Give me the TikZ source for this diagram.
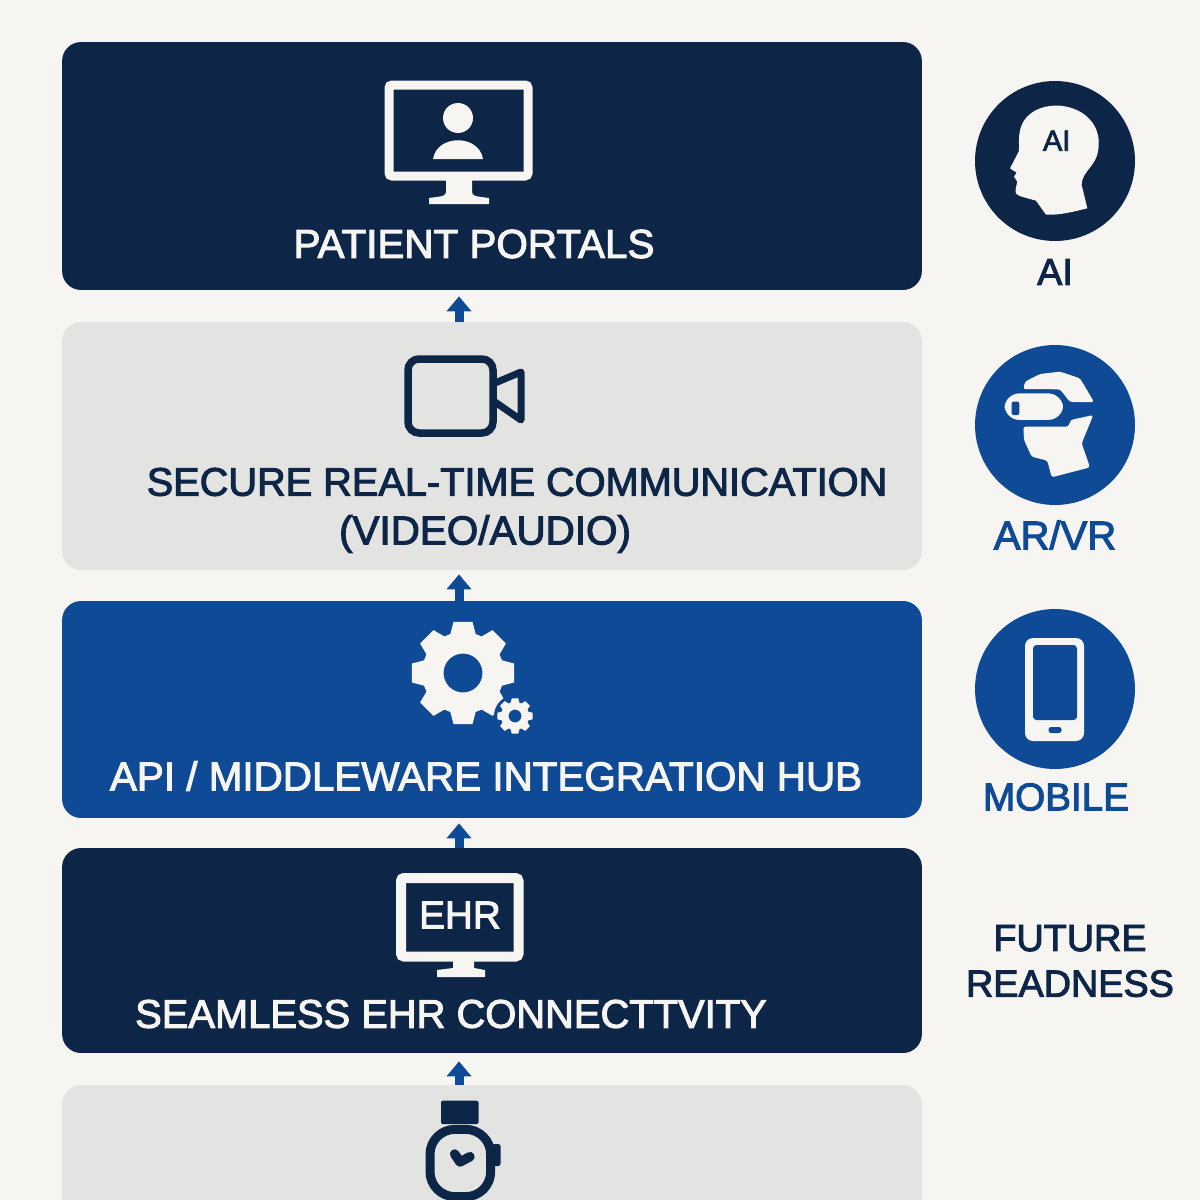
\documentclass[tikz,border=0pt]{standalone}
\usepackage{fontspec}
\setmainfont{Liberation Sans}[FakeBold=2.6]
\usetikzlibrary{arrows.meta}
\usetikzlibrary{calc}
\definecolor{navy}{HTML}{0D2547}
\definecolor{royal}{HTML}{0F4A97}
\definecolor{pale}{HTML}{E3E3E2}
\definecolor{paper}{HTML}{F6F5F2}
\tikzstyle{block} = [rectangle, rounded corners=0.38cm, inner sep=0pt,
                     minimum width=17.2cm]
\tikzstyle{darkblock}=[block, fill=navy]
\tikzstyle{greyblock}=[block, fill=pale]
\tikzstyle{blueblock}=[block, fill=royal]
\tikzstyle{flow}=[royal, line width=0.18cm, -{Triangle[width=0.48cm,length=0.3cm]}]
\tikzstyle{caption}=[inner sep=0pt, font=\fontsize{23}{28}\selectfont]
\tikzstyle{sidecaption}=[caption, align=center, font=\fontsize{21.5}{26}\selectfont]
\tikzstyle{badge}=[circle, inner sep=0pt, minimum size=3.2cm]
\newcommand{\gearicon}[5]{% center, outer, root, hole, colour
  \fill[#5, even odd rule]
    \foreach \a [count=\i from 0] in {0,45,...,315} {
      \ifnum\i=0 ($(#1)+(\a-10.5:#2)$) \else -- ($(#1)+(\a-10.5:#2)$) \fi
      -- ($(#1)+(\a+10.5:#2)$) -- ($(#1)+(\a+18:#3)$) -- ($(#1)+(\a+27:#3)$)
    } -- cycle (#1) circle (#4);}
\begin{document}
\begin{tikzpicture}[x=0.02cm, y=-0.02cm]
  \useasboundingbox (0,0) rectangle (1200,1200);
  \clip (0,0) rectangle (1200,1200);
  \fill[paper] (0,0) rectangle (1200,1200);
  % layers
  \node [darkblock, minimum height=4.96cm] (portals) at (492,166) {};
  \node [greyblock, minimum height=4.96cm] (secure) at (492,446) {};
  \node [blueblock, minimum height=4.34cm] (hub) at (492,709.5) {};
  \node [darkblock, minimum height=4.1cm] (ehr) at (492,950.5) {};
  \node [greyblock, minimum height=4.96cm] (wearable) at (492,1209) {};
  \coordinate (axis) at (459,0);
  \draw[flow] (secure.north -| axis) -- ([yshift=-0.12cm]portals.south -| axis);
  \draw[flow] (hub.north -| axis) -- ([yshift=-0.08cm]secure.south -| axis);
  \draw[flow] (ehr.north -| axis) -- ([yshift=-0.1cm]hub.south -| axis);
  \draw[flow] (wearable.north -| axis) -- ([yshift=-0.16cm]ehr.south -| axis);
  % captions
  \node [caption, text=paper] (portalstext) at (474,244) {PATIENT PORTALS};
  \node [caption, text=navy, font=\fontsize{22.6}{28}\selectfont] (securetext) at (517,482) {SECURE REAL-TIME COMMUNICATION};
  \node [caption, text=navy] (videotext) at (485,534) {(VIDEO/AUDIO)};
  \node [caption, text=paper] (hubtext) at (486,776) {API / MIDDLEWARE INTEGRATION HUB};
  \node [caption, text=paper, font=\fontsize{22.7}{28}\selectfont] (ehrtext) at (451,1014) {SEAMLESS EHR CONNECTTVITY};
  % side column
  \node [badge, fill=navy] (aibadge) at (1055,161) {};
  \node [badge, fill=royal] (vrbadge) at (1055,425) {};
  \node [badge, fill=royal] (mobilebadge) at (1055,689) {};
  \node [sidecaption, text=navy] (aitext) at (1055,272) {AI};
  \node [sidecaption, text=royal, font=\fontsize{22.8}{26}\selectfont] (vrtext) at (1055,535) {AR/VR};
  \node [sidecaption, text=royal, font=\fontsize{22}{26}\selectfont] (mobiletext) at (1056,797) {MOBILE};
  \node [sidecaption, text=navy] (futuretext) at (1070,961) {FUTURE\\READNESS};
  % portal monitor
  \draw[paper, line width=0.18cm, rounded corners=0.06cm] (389,85) rectangle (528,176);
  \fill[paper] (446,176) -- (472,176) -- (472,192) .. controls (473,196) .. (489,198) -- (489,204)
    -- (429,204) -- (429,198) .. controls (445,196) .. (446,192) -- cycle;
  \fill[paper] (458,118) circle (15);
  \fill[paper] (433,159) .. controls (437,134) and (479,134) .. (483,159) -- cycle;
  % camera
  \draw[navy, line width=0.15cm, rounded corners=0.22cm] (408,359) rectangle (493,433);
  \draw[navy, line width=0.14cm, line join=round] (495,383) -- (521,372) -- (521,420) -- (495,402);
  % gears
  \gearicon{463,673}{52}{41}{19.5}{paper}
  \fill[royal] (515,716) circle (21);
  \gearicon{515,716}{18}{14}{6.5}{paper}
  % ehr monitor
  \draw[paper, line width=0.2cm, rounded corners=0.06cm] (401,878) rectangle (518.5,956.5);
  \fill[paper] (453,960) -- (474,960) -- (474,968) -- (485,970) -- (485,977) -- (437,977)
    -- (437,970) -- (453,968) -- cycle;
  \node [inner sep=0pt, text=paper, font=\fontsize{22}{24}\selectfont] (ehrlabel) at (460,915) {EHR};
  % watch
  \begin{scope}[shift={(380,1050)}, scale=1/3]
    \fill[navy, rounded corners=0.03cm] (183,152) rectangle (296,222);
    \draw[navy, line width=0.18cm, rounded corners=0.5cm] (150,238) rectangle (332,440);
    \fill[navy, rounded corners=0.05cm] (335,282) rectangle (362,348);
    \draw[navy, line width=0.19cm, line cap=round, line join=round] (224,312) -- (240,336) -- (270,320);
  \end{scope}
  % head with the ai text
  \begin{scope}[shift={(960,70)}, scale=1/3]
    \fill[paper] (382,415) .. controls (340,425) and (300,436) .. (258,434) -- (228,392) -- (185,380)
      .. controls (165,372) .. (168,352) -- (172,335) -- (162,320) -- (170,308) -- (150,295) -- (176,245)
      .. controls (180,225) and (170,190) .. (190,155) .. controls (215,115) and (260,105) .. (300,107)
      .. controls (380,115) and (420,170) .. (416,225) .. controls (415,290) and (365,300) .. (365,345) -- cycle;
    \node [inner sep=0pt, text=navy, font=\fontsize{16.5}{18}\selectfont] (headtext) at (290,212) {AI};
  \end{scope}
  % head with goggles
  \begin{scope}[shift={(960,70)}, scale=1/3]
    \fill[paper, rounded corners=0.05cm] (190,958) -- (195,935) -- (240,912) -- (300,905) -- (360,925)
      -- (402,996) -- (330,996) -- (300,958) -- cycle;
    \fill[paper, rounded corners=0.05cm] (190,1070) -- (325,1070) -- (332,1050) -- (400,1035) -- (365,1120)
      -- (390,1192) -- (275,1222) -- (262,1172) -- (215,1160) -- (192,1110) -- cycle;
    \fill[paper, draw=royal, line width=0.08cm, rounded corners=0.34cm] (127,964) rectangle (316,1056);
    \fill[royal, rounded corners=0.04cm] (155,995) rectangle (178,1035);
  \end{scope}
  % phone
  \fill[paper, rounded corners=0.16cm] (1025,638) rectangle (1084,741);
  \fill[royal, rounded corners=0.07cm] (1033,645) rectangle (1077,720);
  \fill[royal, rounded corners=0.05cm] (1048.5,727) rectangle (1061.5,733);
\end{tikzpicture}
\end{document}
